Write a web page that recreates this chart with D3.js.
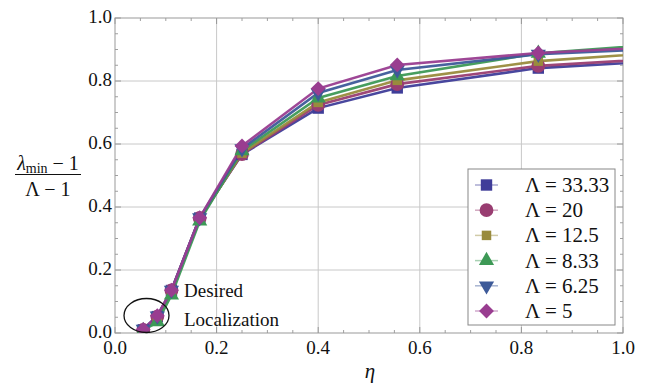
<!DOCTYPE html>
<html><head><meta charset="utf-8">
<script src="https://cdn.jsdelivr.net/npm/d3@7"></script>
</head><body style="margin:0">
<svg id="c" width="645" height="383" font-family="Liberation Serif"></svg>
<script>
const eta = [0.0556, 0.0833, 0.1111, 0.1667, 0.25, 0.4, 0.5556, 0.8333, 1.25];
const seriesNames = ["Λ = 33.33", "Λ = 20", "Λ = 12.5", "Λ = 8.33", "Λ = 6.25", "Λ = 5"];
const v33 = [0.010, 0.052, 0.135, 0.365, 0.567, 0.714, 0.778, 0.841, 0.879];
const v20 = [0.010, 0.052, 0.135, 0.365, 0.568, 0.724, 0.790, 0.848, 0.888];
const v125 = [0.010, 0.050, 0.132, 0.362, 0.571, 0.732, 0.802, 0.863, 0.910];
const v833 = [0.008, 0.035, 0.120, 0.355, 0.578, 0.746, 0.816, 0.888, 0.938];
const v625 = [0.012, 0.054, 0.136, 0.366, 0.585, 0.762, 0.835, 0.885, 0.915];
const v5 = [0.011, 0.055, 0.136, 0.366, 0.594, 0.776, 0.851, 0.889, 0.922];
const seriesValues = [v33, v20, v125, v833, v625, v5];
const colors = ["rgb(63,61,153)", "rgb(153,61,113)", "rgb(153,139,61)", "rgb(61,153,86)", "rgb(61,90,153)", "rgb(153,61,144)"];
const shapes = ["square", "circle", "square", "up", "down", "diamond"];
const sizes = [130, 150, 90, 100, 100, 110];
const xTicks = [0.0, 0.2, 0.4, 0.6, 0.8, 1.0];
const yTicks = [0.0, 0.2, 0.4, 0.6, 0.8, 1.0];

const svg = d3.select("#c");
const L = 115, R = 623, T = 18, B = 333;
const x = d3.scaleLinear().domain([0, 1]).range([L, R]);
const y = d3.scaleLinear().domain([0, 1]).range([B, T]);

function txt(sel, size) {
  return sel.attr("font-family", "Liberation Serif").style("font-family", "Liberation Serif")
    .style("font-size", size + "px").attr("fill", "#111");
}

svg.append("defs").append("clipPath").attr("id", "clip")
  .append("rect").attr("x", L).attr("y", T - 10).attr("width", R - L).attr("height", B - T + 10);

// grid
const g = svg.append("g");
g.selectAll("line.gx").data(xTicks.slice(1, -1)).join("line")
  .attr("x1", d => x(d)).attr("x2", d => x(d)).attr("y1", T).attr("y2", B)
  .attr("stroke", "#c8c8c8").attr("stroke-width", 1);
g.selectAll("line.gy").data(yTicks.slice(1, -1)).join("line")
  .attr("y1", d => y(d)).attr("y2", d => y(d)).attr("x1", L).attr("x2", R)
  .attr("stroke", "#c8c8c8").attr("stroke-width", 1);

// minor/major ticks on frame
const minor = d3.range(0, 1.0001, 0.05);
const tk = svg.append("g").attr("stroke", "#888").attr("stroke-width", 0.8);
minor.forEach(t => {
  const major = Math.abs(t * 5 - Math.round(t * 5)) < 1e-6;
  const len = major ? 6 : 3;
  tk.append("line").attr("x1", x(t)).attr("x2", x(t)).attr("y1", B).attr("y2", B - len);
  tk.append("line").attr("x1", x(t)).attr("x2", x(t)).attr("y1", T).attr("y2", T + len);
  tk.append("line").attr("y1", y(t)).attr("y2", y(t)).attr("x1", L).attr("x2", L + len);
  tk.append("line").attr("y1", y(t)).attr("y2", y(t)).attr("x1", R).attr("x2", R - len);
});

// tick labels (positions from the d3 scales)
svg.append("g").selectAll("text").data(xTicks).join("text")
  .attr("x", d => x(d)).attr("y", B + 21).attr("text-anchor", "middle")
  .text(d3.format(".1f")).call(txt, 19);
svg.append("g").selectAll("text").data(yTicks).join("text")
  .attr("x", L - 3).attr("y", d => y(d) + 5).attr("text-anchor", "end")
  .text(d3.format(".1f")).call(txt, 19);

// frame
svg.append("rect").attr("x", L).attr("y", T).attr("width", R - L).attr("height", B - T)
  .attr("fill", "none").attr("stroke", "#999").attr("stroke-width", 1);

function symPath(shape, size) {
  if (shape === "circle") return d3.symbol().type(d3.symbolCircle).size(size)();
  if (shape === "square" || shape === "diamond") return d3.symbol().type(d3.symbolSquare).size(size)();
  return d3.symbol().type(d3.symbolTriangle).size(size)();
}
function rot(shape) {
  if (shape === "down") return " rotate(180)";
  if (shape === "diamond") return " rotate(45)";
  return "";
}

// series
const plot = svg.append("g").attr("clip-path", "url(#clip)");
const line = d3.line().x((d, i) => x(eta[i])).y(d => y(d));
seriesValues.forEach((vals, s) => {
  plot.append("path").datum(vals).attr("d", line)
    .attr("fill", "none").attr("stroke", colors[s]).attr("stroke-width", 2.6).attr("stroke-opacity", 0.95);
});
seriesValues.forEach((vals, s) => {
  plot.selectAll(null).data(vals).join("path")
    .attr("d", symPath(shapes[s], sizes[s]))
    .attr("transform", (d, i) => `translate(${x(eta[i])},${y(d)})` + rot(shapes[s]))
    .attr("fill", colors[s]);
});

// legend
const lg = svg.append("g");
lg.append("rect").attr("x", 468).attr("y", 169).attr("width", 147).attr("height", 156)
  .attr("fill", "#fff").attr("stroke", "#888").attr("stroke-width", 1);
seriesNames.forEach((n, s) => {
  const cy = 185 + s * 25.2;
  lg.append("line").attr("x1", 475).attr("x2", 498).attr("y1", cy).attr("y2", cy)
    .attr("stroke", colors[s]).attr("stroke-opacity", 0.45).attr("stroke-width", 1.5);
  lg.append("path").attr("d", symPath(shapes[s], sizes[s]))
    .attr("transform", `translate(486.5,${cy})` + rot(shapes[s]))
    .attr("fill", colors[s]);
  svg.append("text").attr("x", 525).attr("y", cy + 7).text(n).call(txt, 21);
});

// annotation
svg.append("ellipse").attr("cx", 146.5).attr("cy", 315.5).attr("rx", 22.5).attr("ry", 17)
  .attr("fill", "none").attr("stroke", "#111").attr("stroke-width", 1.3);
svg.append("text").attr("x", 184).attr("y", 297).text("Desired").call(txt, 19);
svg.append("text").attr("x", 184).attr("y", 326).text("Localization").call(txt, 19);

// axis titles
svg.append("text").attr("x", 370).attr("y", 378).attr("text-anchor", "middle")
  .style("font-style", "italic").text("η").call(txt, 21);
const num = svg.append("text").attr("x", 48).attr("y", 170).attr("text-anchor", "middle").call(txt, 20);
num.append("tspan").style("font-style", "italic").text("λ");
num.append("tspan").style("font-size", "14px").attr("dy", 3).text("min");
num.append("tspan").attr("dy", -3).text(" − 1");
svg.append("line").attr("x1", 15).attr("x2", 81).attr("y1", 174.5).attr("y2", 174.5)
  .attr("stroke", "#111").attr("stroke-width", 1);
svg.append("text").attr("x", 48).attr("y", 196).attr("text-anchor", "middle").text("Λ − 1").call(txt, 20);
</script>
</body></html>
